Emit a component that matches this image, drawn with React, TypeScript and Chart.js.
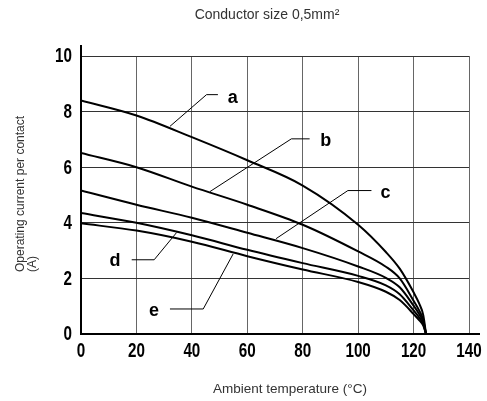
import React, { useEffect, useRef } from "react";
import { Chart, registerables } from "chart.js";

Chart.register(...registerables);

const temps = [0, 20, 40, 60, 80, 100, 110, 115, 120, 122, 123.5, 124.5];
const curveA = [8.4, 7.86, 7.08, 6.25, 5.34, 3.93, 2.95, 2.35, 1.5, 1.1, 0.68, 0];
const curveB = [6.51, 6.0, 5.3, 4.65, 3.93, 2.97, 2.42, 2.0, 1.2, 0.85, 0.5, 0];
const curveC = [5.16, 4.65, 4.18, 3.64, 3.09, 2.43, 2.02, 1.68, 1.02, 0.72, 0.43, 0];
const curveD = [4.35, 4.0, 3.55, 3.03, 2.55, 2.09, 1.75, 1.43, 0.85, 0.6, 0.36, 0];
const curveE = [3.98, 3.72, 3.32, 2.8, 2.32, 1.87, 1.52, 1.22, 0.72, 0.5, 0.3, 0];

const curveNames = ["a", "b", "c", "d", "e"];
const curveValues = [curveA, curveB, curveC, curveD, curveE];

// leader lines: [T, I] points
const leaderA = [[32.1, 7.47], [45.3, 8.61], [49.4, 8.61]];
const leaderB = [[46.5, 5.12], [75.9, 7.02], [82.5, 7.02]];
const leaderC = [[70.4, 3.43], [96.3, 5.16], [104.8, 5.16]];
const leaderD = [[34.5, 3.65], [26.4, 2.67], [18.3, 2.67]];
const leaderE = [[54.9, 2.88], [44.1, 0.9], [32.1, 0.9]];
const leaders = [leaderA, leaderB, leaderC, leaderD, leaderE];

// label anchor positions [T, I]
const labelT = [54.8, 88.3, 109.9, 12.3, 26.3];
const labelI = [8.5, 6.95, 5.08, 2.63, 0.83];

const xTicks = [0, 20, 40, 60, 80, 100, 120, 140];
const yTicks = [0, 2, 4, 6, 8, 10];

const titleText = "Conductor size 0,5mm²";
const xTitleText = "Ambient temperature (°C)";
const yTitleLines = ["Operating current per contact", "(A)"];

const TICK_FONT = "bold 19.5px 'Liberation Sans', Arial, sans-serif";
const TICK_SQUEEZE = 0.78;

const decorPlugin = {
  id: "decor",
  afterDatasetsDraw(chart: any) {
    const { ctx, chartArea, scales } = chart;
    const { left, right, top, bottom } = chartArea;
    ctx.save();
    ctx.strokeStyle = "#000";
    ctx.lineWidth = 2;
    ctx.beginPath();
    ctx.moveTo(left, top - 11);
    ctx.lineTo(left, bottom);
    ctx.lineTo(right + 11, bottom);
    ctx.stroke();

    ctx.fillStyle = "#000";
    ctx.font = "bold 18px 'Liberation Sans', Arial, sans-serif";
    ctx.textAlign = "center";
    ctx.textBaseline = "middle";
    curveNames.forEach((n, i) => {
      ctx.fillText(n, scales.x.getPixelForValue(labelT[i]), scales.y.getPixelForValue(labelI[i]));
    });

    // tick labels (condensed bold)
    ctx.font = TICK_FONT;
    ctx.textBaseline = "middle";
    ctx.textAlign = "center";
    xTicks.forEach((v) => {
      ctx.save();
      ctx.translate(scales.x.getPixelForValue(v), bottom + 18);
      ctx.scale(TICK_SQUEEZE, 1);
      ctx.fillText(String(v), 0, 0);
      ctx.restore();
    });
    ctx.textAlign = "right";
    yTicks.forEach((v) => {
      ctx.save();
      ctx.translate(left - 9, scales.y.getPixelForValue(v) + 1);
      ctx.scale(TICK_SQUEEZE, 1);
      ctx.fillText(String(v), 0, 0);
      ctx.restore();
    });
    ctx.restore();
  },
  afterDraw(chart: any) {
    const { ctx, chartArea } = chart;
    const { bottom } = chartArea;
    ctx.save();
    ctx.fillStyle = "#333";
    ctx.textBaseline = "middle";
    ctx.textAlign = "center";
    ctx.font = "14px 'Liberation Sans', Arial, sans-serif";
    ctx.fillText(titleText, 267, 15);
    ctx.font = "13.5px 'Liberation Sans', Arial, sans-serif";
    ctx.fillText(xTitleText, 290, 389);
    ctx.font = "12px 'Liberation Sans', Arial, sans-serif";
    ctx.textAlign = "left";
    const xs = [21, 33];
    yTitleLines.forEach((t, i) => {
      ctx.save();
      ctx.translate(xs[i], bottom - 62);
      ctx.rotate(-Math.PI / 2);
      ctx.fillText(t, 0, 0);
      ctx.restore();
    });
    ctx.restore();
  },
};

export default function App() {
  const ref = useRef<HTMLCanvasElement>(null);
  useEffect(() => {
    if (!ref.current) return;
    const curveSets = curveValues.map((vals, i) => ({
      label: curveNames[i],
      data: temps.map((t, j) => ({ x: t, y: vals[j] })),
      showLine: true,
      borderColor: "#000",
      borderWidth: 2,
      pointRadius: 0,
      cubicInterpolationMode: "monotone" as const,
      fill: false,
    }));
    const leaderSets = leaders.map((pts, i) => ({
      label: "leader " + curveNames[i],
      data: pts.map(([x, y]) => ({ x, y })),
      showLine: true,
      borderColor: "#000",
      borderWidth: 1,
      pointRadius: 0,
      tension: 0,
      fill: false,
    }));
    const chart = new Chart(ref.current, {
      type: "scatter",
      data: { datasets: [...curveSets, ...leaderSets] as any },
      plugins: [decorPlugin],
      options: {
        animation: false,
        responsive: false,
        layout: { padding: { top: 56, right: 18, left: 0, bottom: 0 } },
        plugins: { legend: { display: false }, tooltip: { enabled: false } },
        scales: {
          x: {
            type: "linear",
            min: 0,
            max: 140,
            afterFit: (s: any) => { s.height = 67; },
            afterBuildTicks: (s: any) => { s.ticks = xTicks.map((v) => ({ value: v })); },
            border: { display: false },
            grid: { color: "#666", lineWidth: 1, drawTicks: false },
            ticks: { display: false },
          },
          y: {
            type: "linear",
            min: 0,
            max: 10,
            afterFit: (s: any) => { s.width = 81; },
            afterBuildTicks: (s: any) => { s.ticks = yTicks.map((v) => ({ value: v })); },
            border: { display: false },
            grid: { color: "#333", lineWidth: 1, drawTicks: false },
            ticks: { display: false },
          },
        },
      } as any,
    });
    return () => chart.destroy();
  }, []);
  return (
    <div style={{ position: "fixed", left: 0, top: 0, width: 487, height: 401, background: "#fff" }}>
      <canvas ref={ref} width={487} height={401} />
    </div>
  );
}
